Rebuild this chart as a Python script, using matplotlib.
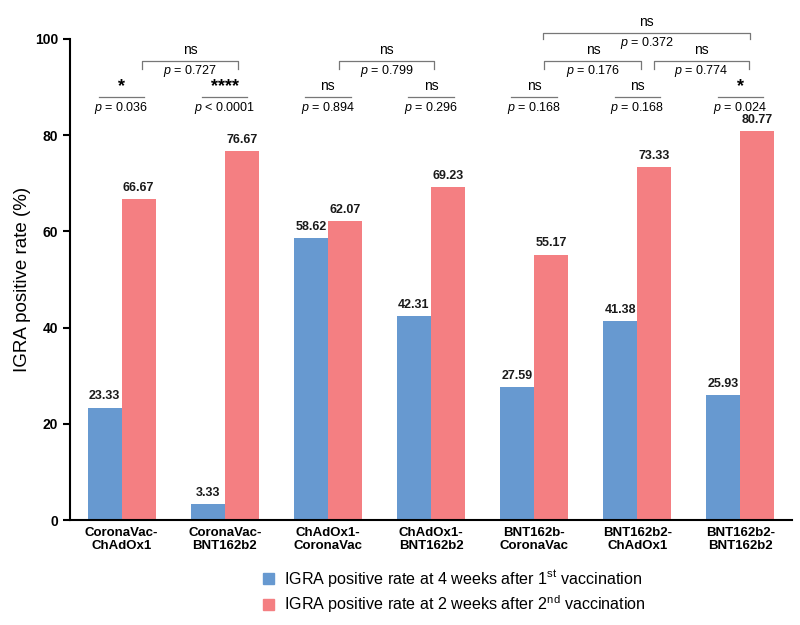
import numpy as np
import matplotlib
matplotlib.use("Agg")
import matplotlib.pyplot as plt
from matplotlib.patches import Patch

plt.rcParams["font.family"] = ["Liberation Sans", "DejaVu Sans"]
plt.rcParams["mathtext.fontset"] = "custom"
plt.rcParams["mathtext.rm"] = "Liberation Sans"
plt.rcParams["mathtext.it"] = "Liberation Sans:italic"

# ---- data ------------------------------------------------------------
groups = ["CoronaVac-\nChAdOx1", "CoronaVac-\nBNT162b2", "ChAdOx1-\nCoronaVac",
          "ChAdOx1-\nBNT162b2", "BNT162b-\nCoronaVac", "BNT162b2-\nChAdOx1",
          "BNT162b2-\nBNT162b2"]
first_dose = [23.33, 3.33, 58.62, 42.31, 27.59, 41.38, 25.93]
second_dose = [66.67, 76.67, 62.07, 69.23, 55.17, 73.33, 80.77]

# within-group comparison (1st vs 2nd)
within_sig = ["*", "****", "ns", "ns", "ns", "ns", "*"]
within_p = ["= 0.036", "< 0.0001", "= 0.894", "= 0.296", "= 0.168", "= 0.168", "= 0.024"]

# between-group comparisons: (left group, right group, label, p, level)
between = [
    (0, 1, "ns", "= 0.727", 0),
    (2, 3, "ns", "= 0.799", 0),
    (4, 5, "ns", "= 0.176", 0),
    (5, 6, "ns", "= 0.774", 0),
    (4, 6, "ns", "= 0.372", 1),
]
# bracket end offsets from group centres
bracket_ends = [(0.20, 1.13), (2.11, 3.03), (4.10, 5.04), (5.16, 6.08), (4.09, 6.09)]

blue = "#6799d0"
red = "#f47f82"

fig = plt.figure(figsize=(8, 6.25), dpi=100)
ax = fig.add_axes([0.0875, 0.168, 0.9025, 0.7696])

x = np.arange(len(groups))
w = 0.33
ax.bar(x - w / 2, first_dose, w, color=blue)
ax.bar(x + w / 2, second_dose, w, color=red)

for xi, v in zip(x - w / 2, first_dose):
    ax.text(xi, v + 1.1, f"{v:.2f}", ha="center", va="bottom",
            fontsize=9, fontweight="bold", color="#1a1a1a")
for xi, v in zip(x + w / 2, second_dose):
    ax.text(xi, v + 1.1, f"{v:.2f}", ha="center", va="bottom",
            fontsize=9, fontweight="bold", color="#1a1a1a")

ax.set_xlim(-0.5, 6.5)
ax.set_ylim(0, 100)
ax.set_yticks([0, 20, 40, 60, 80, 100])
ax.set_xticks(x)
ax.set_xticklabels(groups, fontsize=9.5, fontweight="bold", linespacing=1.15)
ax.tick_params(axis="x", length=0, pad=5)
ax.tick_params(axis="y", length=5, width=1.5, labelsize=10)
for lab in ax.get_yticklabels():
    lab.set_fontweight("bold")
ax.spines["top"].set_visible(False)
ax.spines["right"].set_visible(False)
ax.spines["left"].set_linewidth(1.5)
ax.spines["bottom"].set_linewidth(1.5)
ax.set_ylabel("IGRA positive rate (%)", fontsize=13.5, labelpad=3)

# ---- significance annotations -----------------------------------------
gray = "#777777"
line_y = 88.0
for i, (s, p) in enumerate(zip(within_sig, within_p)):
    yl = line_y
    ax.plot([i - 0.22, i + 0.22], [yl, yl], color=gray, lw=0.9, clip_on=False)
    if s == "ns":
        ax.text(i, yl + 0.8, s, ha="center", va="bottom", fontsize=10)
    else:
        ax.text(i, yl + 0.3, s, ha="center", va="bottom", fontsize=13,
                fontweight="bold")
    ax.text(i, yl - 0.6, f"$\\it{{p}}$ {p}", ha="center", va="top", fontsize=9)

levels = {0: 95.4, 1: 101.2}
for (a, b, s, p, lvl), (xa, xb) in zip(between, bracket_ends):
    yb = levels[lvl]
    drop = 1.6 if lvl == 0 else 1.1
    ax.plot([xa, xa, xb, xb], [yb - drop, yb, yb, yb - drop], color=gray,
            lw=0.9, clip_on=False)
    ax.text((xa + xb) / 2, yb + 0.8, s, ha="center", va="bottom", fontsize=10)
    ax.text((xa + xb) / 2, yb - 0.4, f"$\\it{{p}}$ {p}", ha="center", va="top",
            fontsize=9)

# ---- legend -----------------------------------------------------------
handles = [Patch(color=blue), Patch(color=red)]
labels = ["IGRA positive rate at 4 weeks after 1$^{\\mathrm{st}}$ vaccination",
          "IGRA positive rate at 2 weeks after 2$^{\\mathrm{nd}}$ vaccination"]
fig.legend(handles, labels, loc="upper left", bbox_to_anchor=(0.329, 0.091),
           frameon=False, fontsize=11.6, handlelength=0.65, handleheight=0.65,
           handletextpad=0.65, labelspacing=0.25, borderpad=0,
           borderaxespad=0)

fig.savefig("out.png", dpi=100)
